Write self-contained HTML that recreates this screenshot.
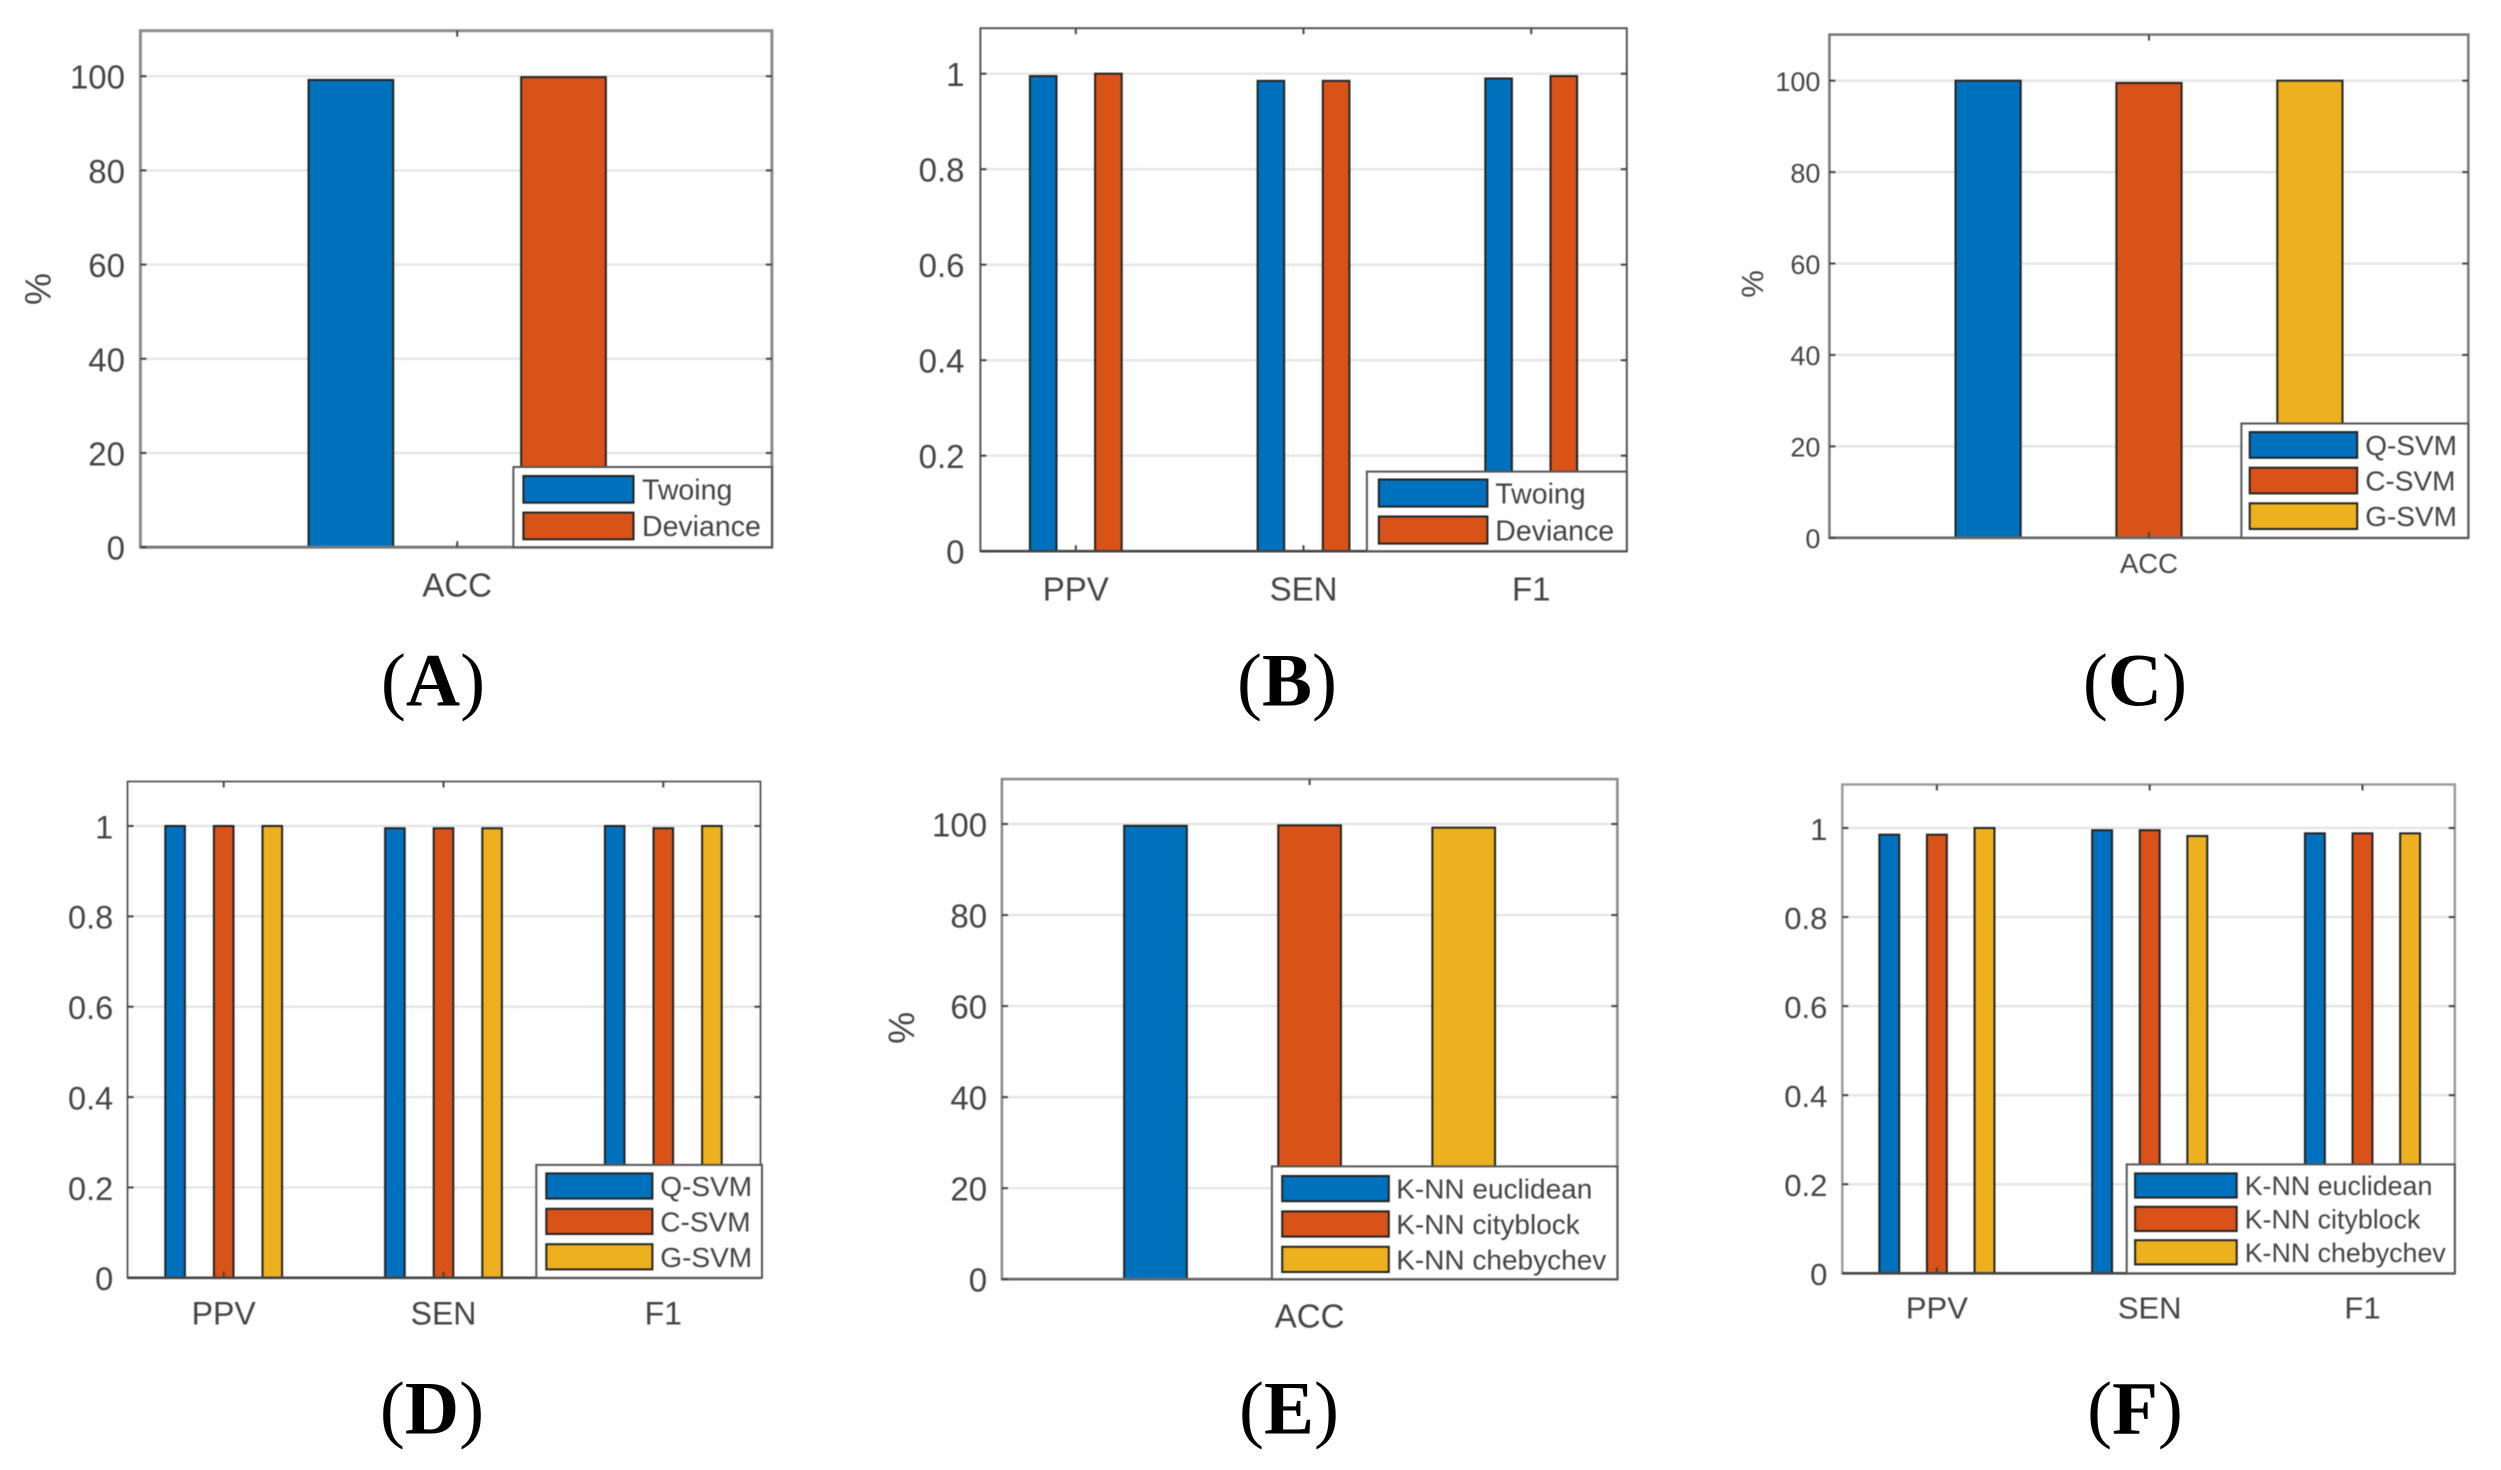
<!DOCTYPE html>
<html lang="en">
<head>
<meta charset="utf-8">
<title>Classifier performance bar charts</title>
<style>
html,body{margin:0;padding:0;background:#fff;}
svg{display:block;}
text{font-family:"Liberation Sans",Arial,sans-serif;fill:#444;}
#panels{filter:blur(0.6px);}
.caption{font-family:"Liberation Serif","Times New Roman",serif;font-size:75px;fill:#000;text-anchor:middle;}
.caption tspan{font-family:"Liberation Serif","Times New Roman",serif;fill:#000;font-weight:bold;}
</style>
</head>
<body>
<svg id="figure" xmlns="http://www.w3.org/2000/svg" width="2501" height="1470" viewBox="0 0 2501 1470">
  <rect x="0" y="0" width="2501" height="1470" fill="#fff"/>
  <g id="panels"></g>
  <text class="caption" x="433" y="705.5">(<tspan>A</tspan>)</text>
  <text class="caption" x="1287" y="705.5">(<tspan>B</tspan>)</text>
  <text class="caption" x="2135" y="705.5">(<tspan>C</tspan>)</text>
  <text class="caption" x="432" y="1433.5">(<tspan>D</tspan>)</text>
  <text class="caption" x="1289" y="1433.5">(<tspan>E</tspan>)</text>
  <text class="caption" x="2135" y="1433.5">(<tspan>F</tspan>)</text>
</svg>
<script>
// ---- Data ----
const percentTicks = [0, 20, 40, 60, 80, 100];
const fractionTicks = [0, 0.2, 0.4, 0.6, 0.8, 1];
const accCategories = ['ACC'];
const metricCategories = ['PPV', 'SEN', 'F1'];
const treeLabels = ['Twoing', 'Deviance'];
const svmLabels = ['Q-SVM', 'C-SVM', 'G-SVM'];
const knnLabels = ['K-NN euclidean', 'K-NN cityblock', 'K-NN chebychev'];

const panelATwoing = [99.2];
const panelADeviance = [99.8];

const panelBTwoing = [0.995, 0.985, 0.99];
const panelBDeviance = [1.0, 0.985, 0.995];

const panelCQsvm = [100];
const panelCCsvm = [99.5];
const panelCGsvm = [100];

const panelDQsvm = [1.0, 0.995, 1.0];
const panelDCsvm = [1.0, 0.995, 0.995];
const panelDGsvm = [1.0, 0.995, 1.0];

const panelEEuclidean = [99.6];
const panelECityblock = [99.7];
const panelEChebychev = [99.2];

const panelFEuclidean = [0.985, 0.995, 0.988];
const panelFCityblock = [0.985, 0.995, 0.988];
const panelFChebychev = [1.0, 0.982, 0.988];

// ---- Presentation ----
const seriesColors = ['#0072BD', '#D95319', '#EDB120'];
const NS = 'http://www.w3.org/2000/svg';
const root = document.getElementById('panels');

const panels = [
  {id:'a', cats:accCategories, names:treeLabels, series:[panelATwoing, panelADeviance], ticks:percentTicks, yLabel:'%',
   L:140.4, R:771.9, T:30.7, B:547.2, Y1:76.2, c0:457.2, cStep:0, sep:212.6, bw:84.7,
   tickFont:33, tickX:125, catFont:33, catY:584.8, yTitleX:38, yTitleY:289, yTitleFont:36,
   boxColor:'#8c8c8c', boxW:3, axisColor:'#777',
   lg:{x0:513.4, x1:771.9, y0:467, y1:547.2, sx0:523.4, sx1:633.5, sy:476, pitch:36.6, sh:26.7, tx:642, font:28.5}},
  {id:'b', cats:metricCategories, names:treeLabels, series:[panelBTwoing, panelBDeviance], ticks:fractionTicks, yLabel:'',
   L:980.4, R:1626.8, T:28.2, B:551.2, Y1:73.7, c0:1075.8, cStep:227.7, sep:65.2, bw:26.6,
   tickFont:33, tickX:964.5, catFont:33, catY:588.8,
   boxColor:'#555', boxW:2, axisColor:'#444',
   lg:{x0:1366.9, x1:1626.8, y0:471.6, y1:551.2, sx0:1378.8, sx1:1487.4, sy:479.5, pitch:37, sh:27.1, tx:1495.3, font:28.5}},
  {id:'c', cats:accCategories, names:svmLabels, series:[panelCQsvm, panelCCsvm, panelCGsvm], ticks:percentTicks, yLabel:'%',
   L:1829.4, R:2468.3, T:34.6, B:537.8, Y1:80.7, c0:2149, cStep:0, sep:160.9, bw:65.2,
   tickFont:27, tickX:1820.4, catFont:27.5, catY:563, yTitleX:1752.7, yTitleY:284, yTitleFont:31,
   boxColor:'#777', boxW:2.5, axisColor:'#666',
   lg:{x0:2241.4, x1:2468.3, y0:423.5, y1:537.8, sx0:2249.7, sx1:2357.2, sy:432.1, pitch:35.6, sh:25.7, tx:2365.2, font:28}},
  {id:'d', cats:metricCategories, names:svmLabels, series:[panelDQsvm, panelDCsvm, panelDGsvm], ticks:fractionTicks, yLabel:'',
   L:127.5, R:760.5, T:781.5, B:1277.8, Y1:826, c0:223.7, cStep:219.8, sep:48.6, bw:19.6,
   tickFont:32.5, tickX:113.2, catFont:32, catY:1312.9,
   boxColor:'#444', boxW:1.6, axisColor:'#444',
   lg:{x0:536.3, x1:762, y0:1164.9, y1:1277.8, sx0:546.3, sx1:652.4, sy:1173.4, pitch:35.4, sh:25.2, tx:660.3, font:28}},
  {id:'e', cats:accCategories, names:knnLabels, series:[panelEEuclidean, panelECityblock, panelEChebychev], ticks:percentTicks, yLabel:'%',
   L:1001.9, R:1617.4, T:779.1, B:1279.2, Y1:824, c0:1309.6, cStep:0, sep:154.1, bw:62.7,
   tickFont:33, tickX:987.1, catFont:33, catY:1315.8, yTitleX:901.7, yTitleY:1027.9, yTitleFont:36,
   boxColor:'#8c8c8c', boxW:2.6, axisColor:'#666',
   lg:{x0:1271.9, x1:1617.4, y0:1166.4, y1:1279.2, sx0:1282.2, sx1:1388.8, sy:1176, pitch:35.4, sh:25.2, tx:1396.2, font:28}},
  {id:'f', cats:metricCategories, names:knnLabels, series:[panelFEuclidean, panelFCityblock, panelFChebychev], ticks:fractionTicks, yLabel:'',
   L:1842.3, R:2454.8, T:784.5, B:1273.3, Y1:828, c0:1936.9, cStep:212.8, sep:47.6, bw:19.9,
   tickFont:31, tickX:1827.4, catFont:31, catY:1307.4,
   boxColor:'#999', boxW:2.4, axisColor:'#444',
   lg:{x0:2126.7, x1:2454.8, y0:1164.4, y1:1273.3, sx0:2135.1, sx1:2236.7, sy:1173.4, pitch:33.4, sh:24.2, tx:2244.7, font:26.8}}
];

function make(tag, parent, attrs) {
  const el = document.createElementNS(NS, tag);
  for (const k in attrs) el.setAttribute(k, attrs[k]);
  parent.appendChild(el);
  return el;
}

function drawPanel(p) {
  const g = make('g', root, {});
  
  

  const yMax = p.ticks[p.ticks.length - 1];
  const yScale = v => p.B - (v / yMax) * (p.B - p.Y1);
  const xCat = i => p.c0 + i * p.cStep;
  const xBar = (i, j) => xCat(i) + (j - (p.series.length - 1) / 2) * p.sep;

  // plot background
  const plotBg = make('rect', g, {x:p.L, y:p.T, width:p.R - p.L, height:p.B - p.T, fill:'#fff'});
  
  

  // gridlines
  p.ticks.forEach(t => {
    if (t === 0) return;
    const grid = make('line', g, {x1:p.L, x2:p.R, y1:yScale(t), y2:yScale(t), stroke:'#e6e6e6', 'stroke-width':2.4});
    
    
  });

  // bars
  p.series.forEach((values, j) => {
    values.forEach((v, i) => {
      const top = yScale(v);
      const bar = make('rect', g, {x:xBar(i, j) - p.bw / 2, y:top, width:p.bw, height:p.B - top,
        fill:seriesColors[j], stroke:'#222', 'stroke-width':2});
      
      
    });
  });

  // axes box
  const box = make('rect', g, {x:p.L, y:p.T, width:p.R - p.L, height:p.B - p.T, fill:'none', stroke:p.boxColor, 'stroke-width':p.boxW});
  
  
  const xAxis = make('line', g, {x1:p.L, x2:p.R, y1:p.B, y2:p.B, stroke:p.axisColor, 'stroke-width':2.6});
  
  

  // y ticks and labels
  p.ticks.forEach(t => {
    const y = yScale(t);
    const tickL = make('line', g, {x1:p.L, x2:p.L + 6, y1:y, y2:y, stroke:'#444', 'stroke-width':2});
    
    
    const tickR = make('line', g, {x1:p.R - 6, x2:p.R, y1:y, y2:y, stroke:'#444', 'stroke-width':2});
    
    
    const label = make('text', g, {x:p.tickX, y:y + p.tickFont * 0.38, 'text-anchor':'end', 'font-size':p.tickFont});
    
    
    label.textContent = String(t);
  });

  // x ticks and labels
  p.cats.forEach((c, i) => {
    const x = xCat(i);
    const tickB = make('line', g, {x1:x, x2:x, y1:p.B - 6, y2:p.B, stroke:'#444', 'stroke-width':2});
    
    
    const tickT = make('line', g, {x1:x, x2:x, y1:p.T, y2:p.T + 6, stroke:'#444', 'stroke-width':2});
    
    
    const label = make('text', g, {x:x, y:p.catY + p.catFont * 0.36, 'text-anchor':'middle', 'font-size':p.catFont});
    
    
    label.textContent = c;
  });

  // y-axis title
  if (p.yLabel) {
    const title = make('text', g, {x:p.yTitleX, y:p.yTitleY, 'text-anchor':'middle', 'dominant-baseline':'central',
      'font-size':p.yTitleFont, transform:'rotate(-90 ' + p.yTitleX + ' ' + p.yTitleY + ')'});
    
    
    title.textContent = p.yLabel;
  }

  // legend
  const lg = p.lg;
  const legend = make('g', g, {});
  
  
  const legendBox = make('rect', legend, {x:lg.x0, y:lg.y0, width:lg.x1 - lg.x0, height:lg.y1 - lg.y0, fill:'#fff', stroke:'#555', 'stroke-width':2});
  
  
  p.names.forEach((name, j) => {
    const sy = lg.sy + j * lg.pitch;
    const swatch = make('rect', legend, {x:lg.sx0, y:sy, width:lg.sx1 - lg.sx0, height:lg.sh, fill:seriesColors[j], stroke:'#222', 'stroke-width':2});
    
    
    const entry = make('text', legend, {x:lg.tx, y:sy + lg.sh / 2 + lg.font * 0.36, 'font-size':lg.font});
    
    
    entry.textContent = name;
  });
}

panels.forEach(drawPanel);
</script>
</body>
</html>
